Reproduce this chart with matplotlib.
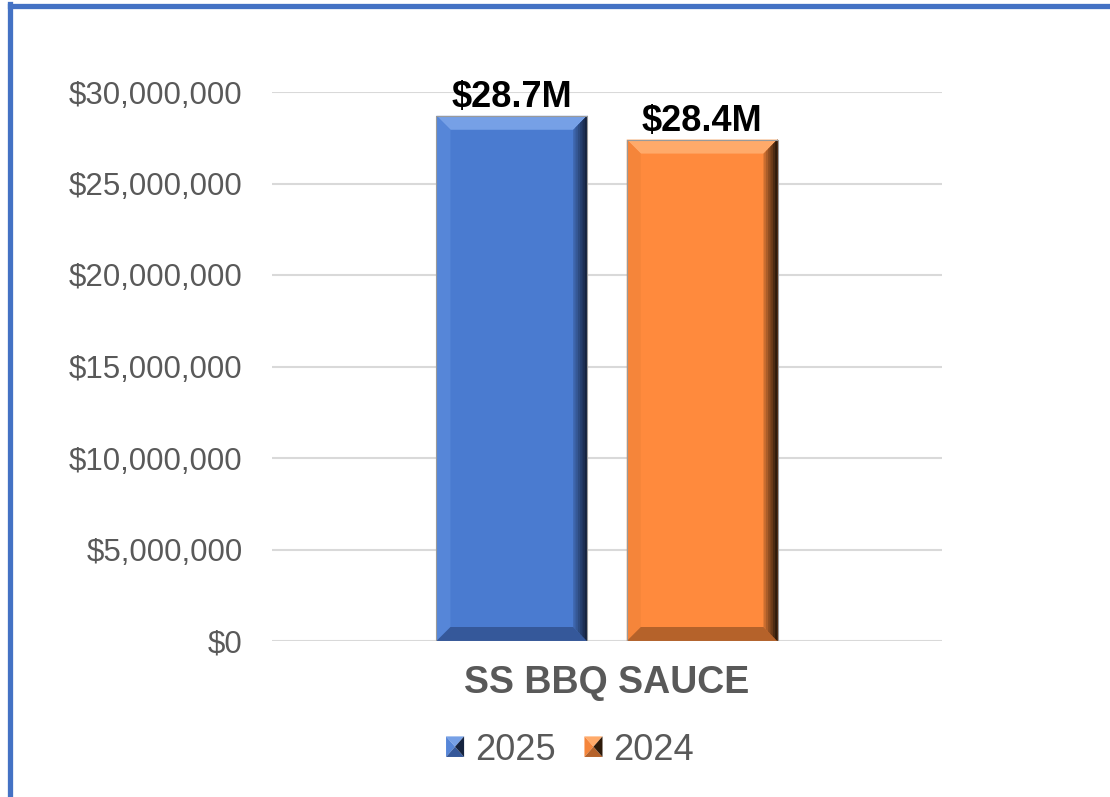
import matplotlib
matplotlib.use("Agg")
import matplotlib.pyplot as plt
from matplotlib.patches import Polygon, Rectangle
from matplotlib.lines import Line2D
from matplotlib.legend_handler import HandlerBase
from matplotlib.ticker import FuncFormatter

# data
category = "SS BBQ SAUCE"
years = ["2025", "2024"]
sales = [28.7e6, 27.4e6]
value_labels = ["$28.7M", "$28.4M"]
yticks = [0, 5e6, 10e6, 15e6, 20e6, 25e6, 30e6]

# bevel palettes: face, top, left, bottom, right-dark
palettes = {
    "2025": dict(face="#4A7BD0", top="#76A0E6", left="#5686D8", bottom="#35589A", dark="#15233F"),
    "2024": dict(face="#FF8A3D", top="#FFAA6A", left="#F5853A", bottom="#B5622A", dark="#2E1A0A"),
}

GRAY = "#595959"
plt.rcParams["font.family"] = ["Liberation Sans", "DejaVu Sans"]


def mix(c1, c2, t):
    a = matplotlib.colors.to_rgb(c1)
    b = matplotlib.colors.to_rgb(c2)
    return tuple(a[i] * (1 - t) + b[i] * t for i in range(3))


def draw_bevel(ax, x0, x1, y1, pal, dx, dy):
    # faces of the bevel, drawn over the plain bar
    ax.add_patch(Polygon([(x0, y1), (x1, y1), (x1 - dx, y1 - dy), (x0 + dx, y1 - dy)],
                         closed=True, fc=pal["top"], ec="none", zorder=3))
    ax.add_patch(Polygon([(x0, 0), (x0, y1), (x0 + dx, y1 - dy), (x0 + dx, dy)],
                         closed=True, fc=pal["left"], ec="none", zorder=3))
    ax.add_patch(Polygon([(x0, 0), (x1, 0), (x1 - dx, dy), (x0 + dx, dy)],
                         closed=True, fc=pal["bottom"], ec="none", zorder=3))
    # right side gets darker toward the edge
    n = 6
    for i in range(n):
        w = dx * (n - i) / n
        c = mix(pal["face"], pal["dark"], 0.25 + 0.75 * i / (n - 1))
        ax.add_patch(Polygon([(x1, 0), (x1, y1), (x1 - w, y1 - dy * w / dx), (x1 - w, dy * w / dx)],
                             closed=True, fc=c, ec="none", zorder=3))
    ax.add_patch(Rectangle((x0, 0), x1 - x0, y1, fc="none", ec="#9a9a9a", lw=0.8, zorder=4))


class HandlerBevel(HandlerBase):
    def __init__(self, pal):
        super().__init__()
        self.pal = pal

    def create_artists(self, legend, orig_handle, xdescent, ydescent, width, height, fontsize, trans):
        x0, y0 = -xdescent, -ydescent
        x1, y1 = x0 + width, y0 + height
        xc, yc = (x0 + x1) / 2, (y0 + y1) / 2
        p = self.pal
        tris = [
            ([(x0, y1), (x1, y1), (xc, yc)], p["top"]),
            ([(x0, y0), (x0, y1), (xc, yc)], p["left"]),
            ([(x0, y0), (x1, y0), (xc, yc)], p["bottom"]),
            ([(x1, y0), (x1, y1), (xc, yc)], p["dark"]),
        ]
        return [Polygon(pts, closed=True, fc=c, ec="none", transform=trans) for pts, c in tris]


fig = plt.figure(figsize=(11.1, 7.97), dpi=100)
ax = fig.add_axes([272 / 1110, 1 - 641 / 797, 670 / 1110, 549 / 797])

offsets = [-0.142, 0.142]
width = 0.225
bars = ax.bar(offsets, sales, width=width, color=[palettes[y]["face"] for y in years], zorder=2)

dx = 14 / 670
dy = 14 / 549 * 30e6
for b, y in zip(bars, years):
    draw_bevel(ax, b.get_x(), b.get_x() + b.get_width(), b.get_height(), palettes[y], dx, dy)

for b, lab in zip(bars, value_labels):
    ax.annotate(lab, (b.get_x() + b.get_width() / 2, b.get_height()), xytext=(0, 6),
                textcoords="offset points", ha="center", va="baseline",
                fontsize=26, fontweight="bold", color="black", zorder=5, annotation_clip=False)

ax.set_xlim(-0.5, 0.5)
ax.set_ylim(0, 30e6)
ax.set_yticks(yticks)
ax.yaxis.set_major_formatter(FuncFormatter(lambda v, p: f"${v:,.0f}"))
ax.tick_params(axis="y", length=0, pad=21, labelsize=22.5, labelcolor=GRAY)
ax.set_xticks([0])
ax.set_xticklabels([category], fontsize=27, fontweight="bold", color=GRAY)
ax.tick_params(axis="x", length=0, pad=17)
ax.grid(axis="y", color="#D9D9D9", linewidth=1.5, zorder=0)
ax.set_axisbelow(True)
for s in ax.spines.values():
    s.set_visible(False)

handles = [Rectangle((0, 0), 1, 1) for _ in years]
leg = fig.legend(handles, years, loc="center", bbox_to_anchor=(570 / 1110, 1 - 750 / 797),
                 ncol=2, frameon=False, fontsize=26, labelcolor=GRAY,
                 handlelength=0.5, handleheight=0.5, handletextpad=0.3, columnspacing=0.8,
                 handler_map={h: HandlerBevel(palettes[y]) for h, y in zip(handles, years)})

# chart border (top and left edges visible)
fig.add_artist(Line2D([9.5 / 1110, 1], [1 - 5.5 / 797] * 2, color="#4472C4", lw=3.8))
fig.add_artist(Line2D([9.5 / 1110] * 2, [0, 1 - 3.5 / 797], color="#4472C4", lw=3.8))

fig.savefig("out.png", dpi=100)
